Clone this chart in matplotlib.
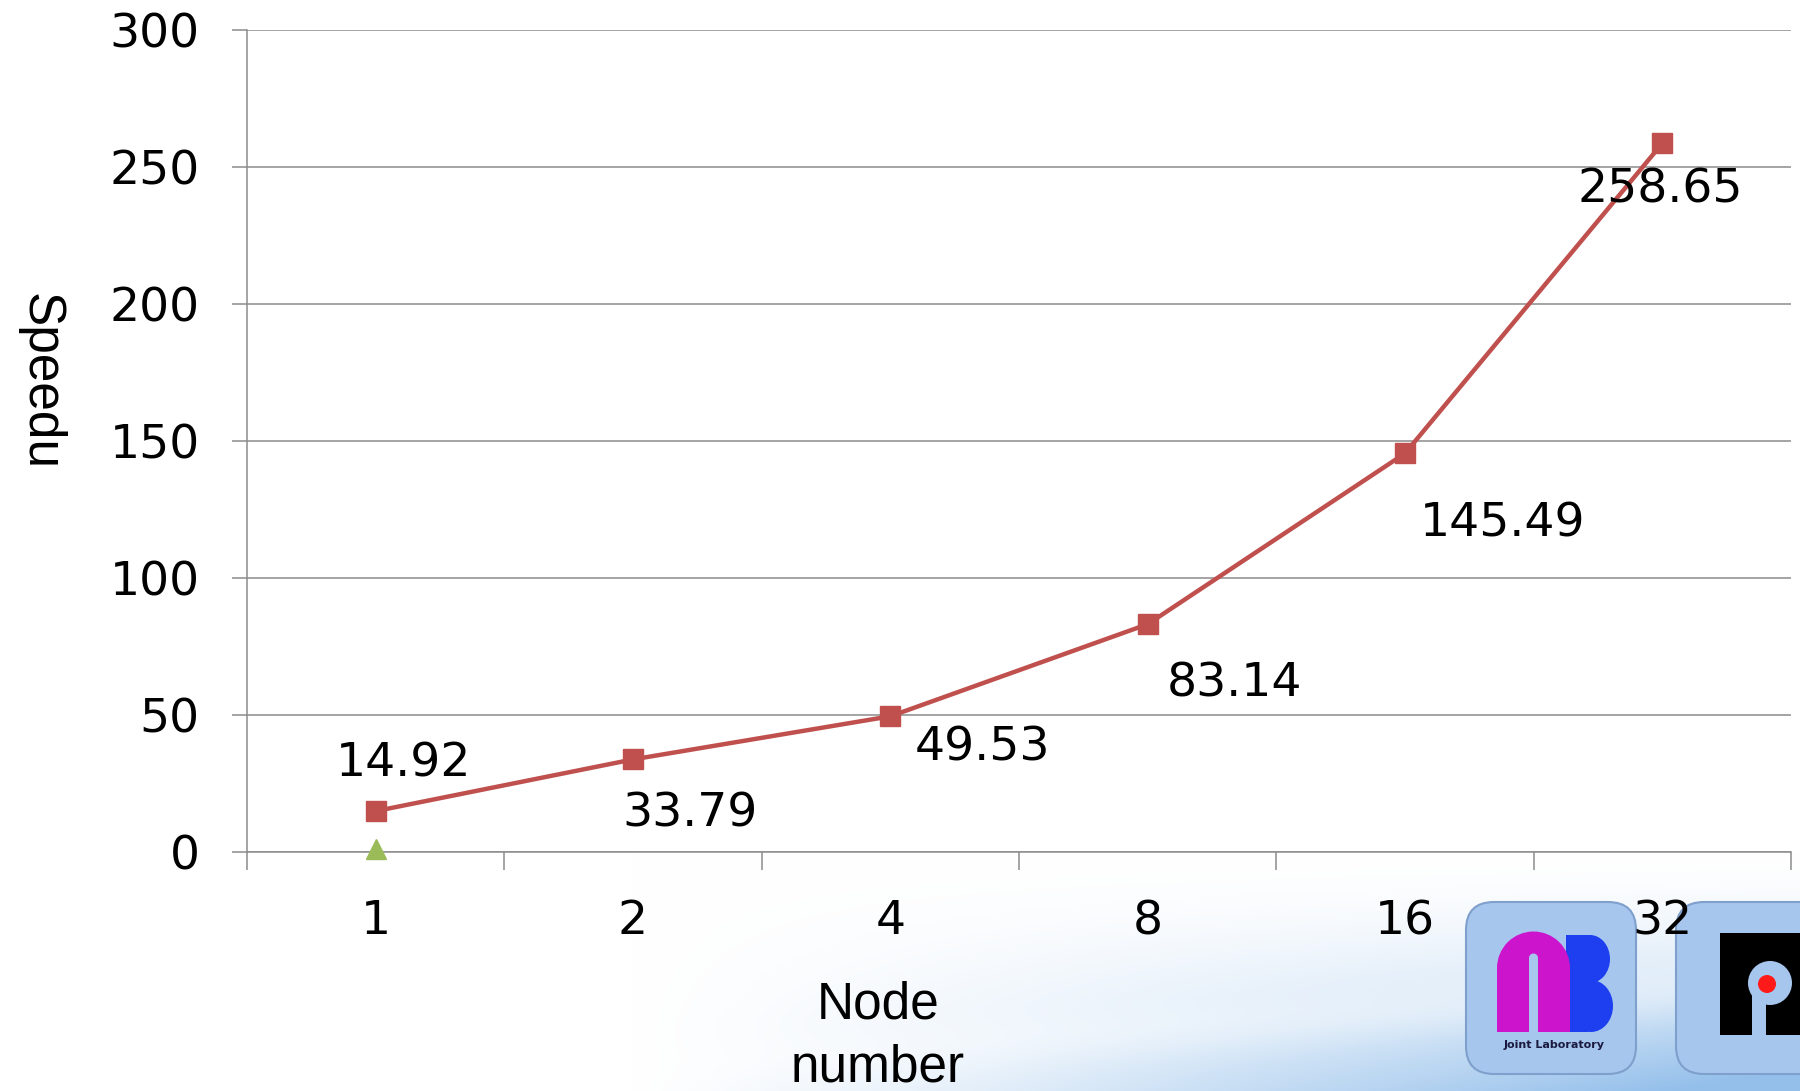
import numpy as np
import matplotlib
matplotlib.use("Agg")
import matplotlib.pyplot as plt
from matplotlib.patches import FancyBboxPatch, Rectangle, Circle, Wedge, Ellipse

# ---- data ----
node_labels = ["1", "2", "4", "8", "16", "32"]
speedup = [14.92, 33.79, 49.53, 83.14, 145.49, 258.65]
baseline_label = ["1"]
baseline_value = [1.0]
y_ticks = [0, 50, 100, 150, 200, 250, 300]

W, H = 1800, 1091
fig = plt.figure(figsize=(W / 100, H / 100), dpi=100)

# ---- background (slide swoosh) ----
bg = fig.add_axes([0, 0, 1, 1], zorder=0)
bg.set_xlim(0, W)
bg.set_ylim(H, 0)
bg.axis("off")
yy, xx = np.mgrid[0:H, 0:W]
u = yy / H
v = xx / W
w = np.clip((u - 0.78) / 0.22, 0, 1) ** 1.6 * np.clip((v - 0.35) / 0.65, 0, 1) ** 1.1
streak = 0.35 * np.exp(-(((u - 0.93) + (v - 0.75) * 0.12) / 0.025) ** 2)
w = np.clip(w * (1 - streak) + 0.15 * np.clip((u - 0.85) / 0.15, 0, 1) * np.clip((v - 0.55) / 0.45, 0, 1), 0, 1)
blue = np.array([0.58, 0.75, 0.92])
img = np.ones((H, W, 3)) * (1 - w[..., None]) + blue * w[..., None]
bg.imshow(img, extent=(0, W, H, 0), aspect="auto", zorder=0)

box_c = "#a6c6ee"
# logo 1
bg.add_patch(FancyBboxPatch((1466, 902), 170, 172, boxstyle="round,pad=0,rounding_size=28",
                            fc=box_c, ec="#7f9fcc", lw=1.5, zorder=2))
# blue "B"
bg.add_patch(Rectangle((1566, 935), 22, 97, fc="#1d3ff0", ec="none", zorder=2.5))
bg.add_patch(Ellipse((1590, 959), 40, 48, fc="#1d3ff0", ec="none", zorder=2.5))
bg.add_patch(Ellipse((1591, 1006), 44, 52, fc="#1d3ff0", ec="none", zorder=2.5))
# magenta "n"
bg.add_patch(Wedge((1533.5, 968), 36.5, 180, 360, fc="#cc14cc", ec="none", zorder=3))
bg.add_patch(Rectangle((1497, 968), 73, 64, fc="#cc14cc", ec="none", zorder=3))
bg.add_patch(Rectangle((1529, 958), 9, 75, fc=box_c, ec="none", zorder=4))
bg.add_patch(Circle((1533.5, 958), 4.5, fc=box_c, ec="none", zorder=4))
bg.text(1554, 1045, "Joint Laboratory", fontsize=8, fontweight="bold", color="#1a1a40",
        ha="center", va="center", zorder=5)

# logo 2
bg.add_patch(FancyBboxPatch((1676, 902), 160, 172, boxstyle="round,pad=0,rounding_size=28",
                            fc=box_c, ec="#7f9fcc", lw=1.5, zorder=2))
bg.add_patch(Rectangle((1720, 933), 90, 102, fc="black", ec="none", zorder=3))
bg.add_patch(Circle((1770, 983), 22, fc=box_c, ec="none", zorder=4))
bg.add_patch(Rectangle((1752, 983), 14, 52, fc=box_c, ec="none", zorder=4))
bg.add_patch(Circle((1767, 984), 9, fc="#ff1a1a", ec="none", zorder=5))

# ---- chart ----
L, R, T, B = 247, 1791, 30, 852
ax = fig.add_axes([L / W, 1 - B / H, (R - L) / W, (B - T) / H], zorder=1)
ax.patch.set_alpha(0)

x = np.arange(len(node_labels))
grid_c = "#8c8c8c"
ax.set_xlim(-0.5, len(node_labels) - 0.5)
ax.set_ylim(0, 300)
ax.set_yticks(y_ticks)
ax.set_yticklabels([str(t) for t in y_ticks])
ax.yaxis.grid(True, color=grid_c, lw=1.1)
ax.set_axisbelow(True)
for s in ["top", "right"]:
    ax.spines[s].set_visible(False)
for s in ["left", "bottom"]:
    ax.spines[s].set_color(grid_c)
    ax.spines[s].set_linewidth(1.1)

ax.set_xticks(np.arange(-0.5, len(node_labels), 1.0))
ax.set_xticklabels([])
ax.set_xticks(x, minor=True)
ax.set_xticklabels(node_labels, minor=True)
ax.tick_params(axis="x", which="major", length=13, width=1.1, color=grid_c, direction="out")
ax.tick_params(axis="x", which="minor", length=0, pad=34, labelsize=34)
ax.tick_params(axis="y", length=11, width=1.1, color=grid_c, direction="out", pad=23, labelsize=34)

ax.plot(x, speedup, color="#C0504D", lw=3.2, marker="s", ms=15, mec="#C0504D", mfc="#C0504D",
        zorder=3, clip_on=False)
ax.plot([node_labels.index(b) for b in baseline_label], baseline_value, linestyle="none",
        marker="^", ms=15, color="#9BBB59", zorder=3, clip_on=False)

offsets = [(28, 47), (57, -55), (92, -32), (87, -60), (98, -71), (-2, -47)]
for xi, val, off in zip(x, speedup, offsets):
    ax.annotate(f"{val:.2f}", (xi, val), xytext=off, textcoords="offset pixels",
                ha="center", va="center", fontsize=34, color="black", zorder=4)

fig.text(40 / W, 1 - 382 / H, "Speedu", rotation=270, ha="center", va="center",
         fontsize=37, family=["Liberation Sans Narrow", "Liberation Sans"])
fig.text(878 / W, 1 - 1005 / H, "Node", ha="center", va="center",
         fontsize=37, family=["Liberation Sans Narrow", "Liberation Sans"])
fig.text(878 / W, 1 - 1068 / H, "number", ha="center", va="center",
         fontsize=37, family=["Liberation Sans Narrow", "Liberation Sans"])

fig.savefig("out.png", dpi=100)
